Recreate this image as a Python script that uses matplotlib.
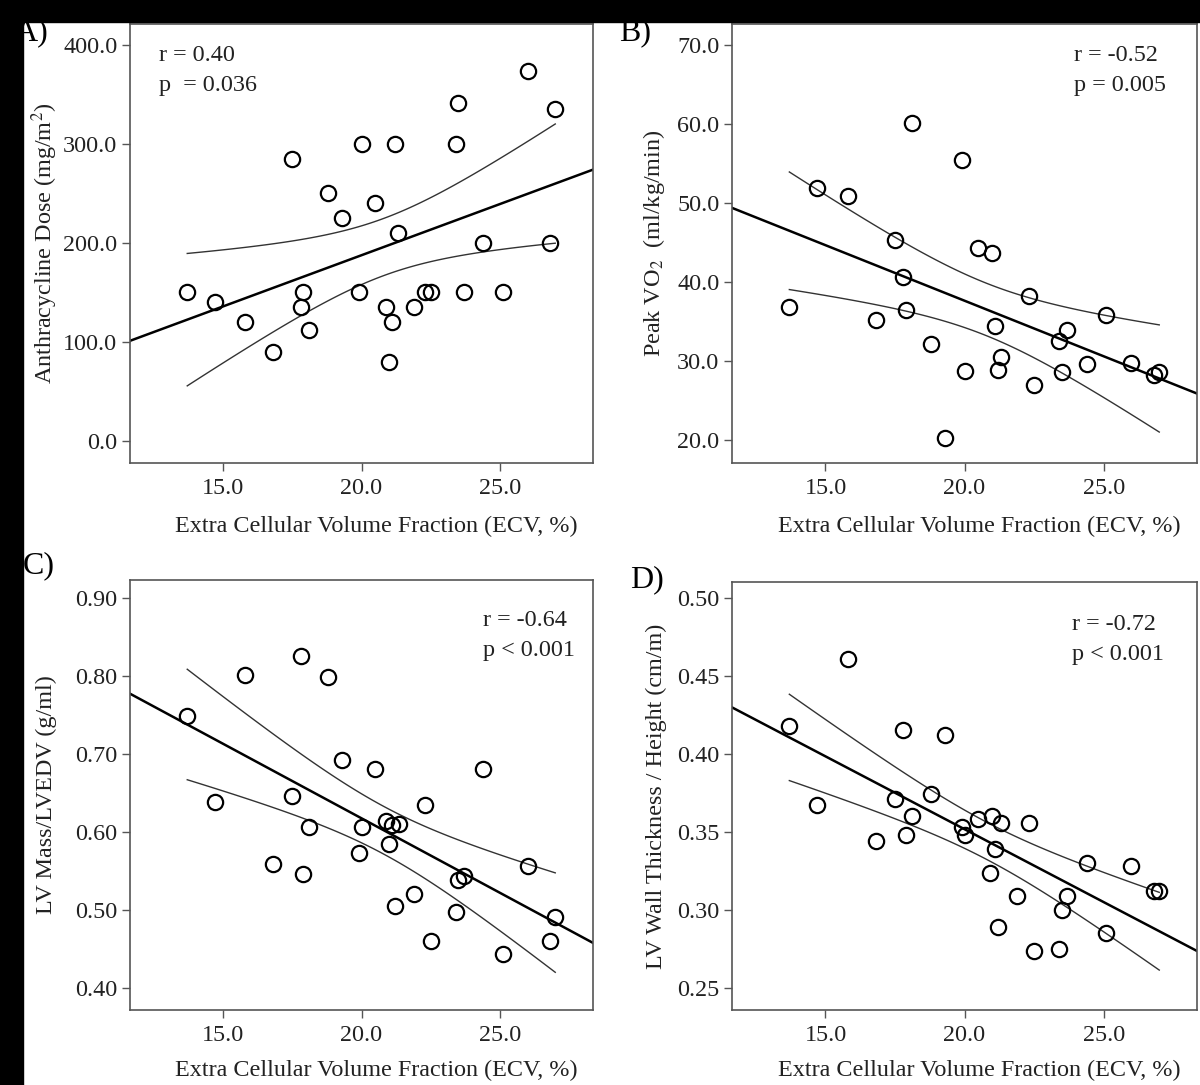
import numpy as np
import matplotlib
matplotlib.use("Agg")
import matplotlib.pyplot as plt
from matplotlib.patches import Rectangle

plt.rcParams['font.family'] = ['Liberation Serif', 'DejaVu Serif']
plt.rcParams['mathtext.fontset'] = 'stix'

# ECV (%) and outcome values
ecv_a = [13.7, 14.7, 15.8, 16.8, 17.5, 17.9, 17.8, 18.1, 18.8, 19.3, 20.0, 19.9, 20.5, 21.2, 21.3,
         20.9, 21.1, 21.0, 21.9, 22.3, 22.5, 23.4, 23.5, 23.7, 24.4, 25.1, 26.0, 26.8, 27.0]
dose_a = [150, 140, 120, 90, 285, 150, 135, 112, 250, 225, 300, 150, 240, 300, 210,
          135, 120, 80, 135, 150, 150, 300, 341, 150, 200, 150, 374, 200, 335]

ecv_b = [13.7, 14.7, 15.8, 16.8, 17.5, 17.8, 17.9, 18.1, 18.8, 19.3, 19.9, 20.0, 20.5, 21.0,
         21.1, 21.3, 21.2, 22.3, 22.5, 23.4, 23.7, 23.5, 24.4, 25.1, 26.0, 26.8, 27.0]
vo2_b = [36.9, 51.9, 50.9, 35.2, 45.3, 40.6, 36.5, 60.1, 32.2, 20.2, 55.5, 28.7, 44.3, 43.7,
         34.4, 30.5, 28.9, 38.2, 27.0, 32.5, 33.9, 28.6, 29.6, 35.8, 29.7, 28.2, 28.6]

ecv_c = [13.7, 14.7, 15.8, 16.8, 17.5, 17.8, 17.9, 18.1, 18.8, 19.3, 19.9, 20.0, 20.5, 20.9, 21.1,
         21.35, 21.0, 21.2, 21.9, 22.3, 22.5, 23.4, 23.5, 23.7, 24.4, 25.1, 26.0, 26.8, 27.0]
mass_c = [0.749, 0.638, 0.801, 0.559, 0.646, 0.826, 0.546, 0.606, 0.799, 0.693, 0.573, 0.606, 0.681,
          0.614, 0.609, 0.610, 0.585, 0.505, 0.521, 0.635, 0.460, 0.497, 0.538, 0.544, 0.681, 0.444,
          0.556, 0.461, 0.491]

ecv_d = [13.7, 14.7, 15.8, 16.8, 17.5, 17.8, 17.9, 18.1, 18.8, 19.3, 19.9, 20.0, 20.5, 21.0, 21.3,
         21.1, 20.9, 21.2, 21.9, 22.3, 22.5, 23.4, 23.5, 23.7, 24.4, 25.1, 26.0, 26.8, 27.0]
wall_d = [0.418, 0.367, 0.461, 0.344, 0.371, 0.415, 0.348, 0.360, 0.374, 0.412, 0.353, 0.348, 0.358,
          0.360, 0.356, 0.339, 0.324, 0.289, 0.309, 0.356, 0.274, 0.275, 0.300, 0.309, 0.330, 0.285,
          0.328, 0.312, 0.312]

xlabel = "Extra Cellular Volume Fraction (ECV, %)"
frame_col = '#555555'
fs = 17.4


def scatter_panel(rect, x, y, ylim, yticks, yfmt, ylab, stats, stat_pos, t_val, ypad, xpad):
    ax = fig.add_axes(rect)
    x = np.array(x)
    y = np.array(y)
    ax.plot(x, y, 'o', ms=11, mfc='none', mec='black', mew=1.6, zorder=3)

    # least squares line plus 95% confidence band of the mean
    b, a = np.polyfit(x, y, 1)
    xl = np.array([11.6, 28.4])
    ax.plot(xl, a + b * xl, color='black', lw=1.8)
    n = len(x)
    resid = y - (a + b * x)
    s = np.sqrt(np.sum(resid ** 2) / (n - 2))
    sxx = np.sum((x - x.mean()) ** 2)
    xs = np.linspace(x.min(), x.max(), 100)
    se = s * np.sqrt(1.0 / n + (xs - x.mean()) ** 2 / sxx)
    ax.plot(xs, a + b * xs + t_val * se, color='#333333', lw=1.0)
    ax.plot(xs, a + b * xs - t_val * se, color='#333333', lw=1.0)

    ax.set_xlim(11.63, 28.37)
    ax.set_ylim(*ylim)
    ax.set_xticks([15, 20, 25])
    ax.set_xticklabels(["%.1f" % v for v in [15, 20, 25]])
    ax.set_yticks(yticks)
    ax.set_yticklabels([yfmt % v for v in yticks])
    for sp in ax.spines.values():
        sp.set_color(frame_col)
        sp.set_linewidth(1.2)
    ax.tick_params(direction='out', length=6, width=1.0, color=frame_col,
                   labelsize=fs, labelcolor='#222222', pad=3)
    ax.tick_params(axis='x', pad=5)
    ax.set_xlabel(xlabel, fontsize=fs, color='#222222', labelpad=xpad)
    ax.xaxis.label.set_x(0.532)
    ax.set_ylabel(ylab, fontsize=fs, color='#222222', labelpad=ypad)
    ax.text(stat_pos[0], stat_pos[1], stats, transform=ax.transAxes, fontsize=fs,
            va='top', ha='left', color='#222222', linespacing=1.55)
    return ax


fig = plt.figure(figsize=(12, 10.85), dpi=100)

scatter_panel([0.1083, 0.5735, 0.386, 0.4043], ecv_a, dose_a, (-22, 421),
              [0, 100, 200, 300, 400], "%.1f", "Anthracycline Dose (mg/m$^2$)",
              "r = 0.40\np  = 0.036", (0.063, 0.953), 2.052, 2, 12)
scatter_panel([0.6098, 0.5735, 0.388, 0.4043], ecv_b, vo2_b, (17.1, 72.7),
              [20, 30, 40, 50, 60, 70], "%.1f", "Peak VO$_2$  (ml/kg/min)",
              "r = -0.52\np = 0.005", (0.735, 0.953), 2.060, 7, 12)
scatter_panel([0.1083, 0.0691, 0.386, 0.3963], ecv_c, mass_c, (0.372, 0.923),
              [0.4, 0.5, 0.6, 0.7, 0.8, 0.9], "%.2f", "LV Mass/LVEDV (g/ml)",
              "r = -0.64\np < 0.001", (0.762, 0.93), 2.052, 13, 10)
scatter_panel([0.6098, 0.0691, 0.388, 0.3945], ecv_d, wall_d, (0.236, 0.510),
              [0.25, 0.30, 0.35, 0.40, 0.45, 0.50], "%.2f", "LV Wall Thickness / Height (cm/m)",
              "r = -0.72\np < 0.001", (0.73, 0.925), 2.052, 7, 10)

# panel letters
fig.text(0.012, 0.983, "A)", fontsize=23, va='top', ha='left', zorder=1)
fig.text(0.516, 0.983, "B)", fontsize=23, va='top', ha='left')
fig.text(0.019, 0.492, "C)", fontsize=23, va='top', ha='left')
fig.text(0.525, 0.479, "D)", fontsize=23, va='top', ha='left')

# black borders from the scanned figure
fig.add_artist(Rectangle((0, 1 - 22 / 1085), 1, 22 / 1085, transform=fig.transFigure,
                         color='black', zorder=20))
fig.add_artist(Rectangle((0, 0), 23 / 1200, 1, transform=fig.transFigure,
                         color='black', zorder=20))

fig.savefig("out.png", dpi=100)
